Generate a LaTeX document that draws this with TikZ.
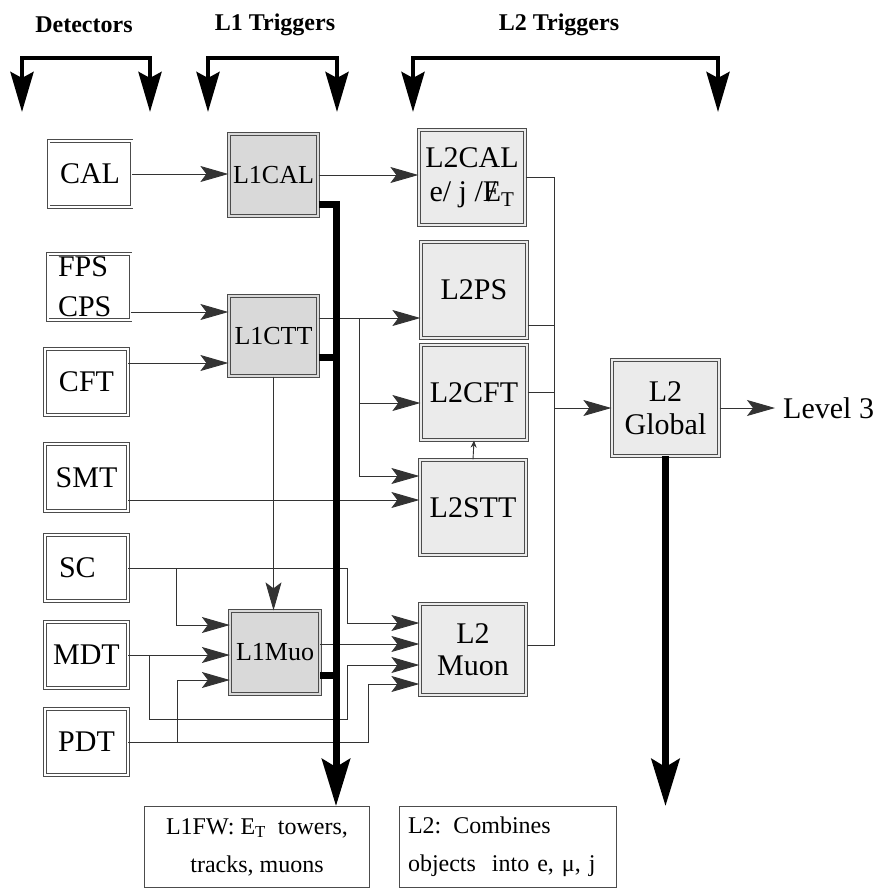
\documentclass[tikz,border=0pt]{standalone}
\usepackage{fontspec}
\setmainfont{Liberation Serif}
\usetikzlibrary{arrows.meta,calc}

\begin{document}
\begin{tikzpicture}[x=1pt,y=-1pt,
    detbox/.style={draw=black!70, double=white, double distance=2pt, line width=0.8pt,
        minimum width=83pt, minimum height=66.5pt, inner sep=0pt,
        font=\fontsize{30}{40}\selectfont},
    lonebox/.style={detbox, fill=gray!30, double=gray!30,
        minimum width=89.5pt, minimum height=82.5pt, font=\fontsize{26}{30}\selectfont},
    ltwobox/.style={detbox, fill=gray!16, double=gray!16,
        minimum width=106.5pt, minimum height=95.5pt, font=\fontsize{30}{34}\selectfont},
    fwbox/.style={draw=black!70, line width=0.9pt, minimum height=81pt,
        font=\fontsize{24}{38}\selectfont},
    header/.style={font=\fontsize{24}{28}\selectfont\bfseries},
    wire/.style={draw=black!80, line width=0.9pt},
    arr/.style={wire, -{Stealth[length=28pt,width=16pt,inset=6pt]}},
    smallarr/.style={wire, -{Stealth[length=7pt,width=6pt]}},
    bus/.style={line width=7pt, line join=miter},
    busarr/.style={bus, -{Stealth[length=47pt,width=28pt,inset=8pt]}},
    brk/.style={line width=4.5pt, line join=miter,
        {Stealth[length=40pt,width=23pt,inset=6pt]}-{Stealth[length=40pt,width=23pt,inset=6pt]}}
]
\useasboundingbox (0,0) rectangle (884,889);

% Headers
\node[header] (dethd) at (84,25) {Detectors};
\node[header] (lonehd) at (275,25) {L1 Triggers};
\node[header] (ltwohd) at (559,25) {L2 Triggers};

% Brackets
\draw[brk] (22,112) |- (150,58) -- (150,112);
\draw[brk] (208,112) |- (337,58) -- (337,112);
\draw[brk] (413,112) |- (718,58) -- (718,112);

% Detectors
\node[detbox] (cal) at (90,174) {CAL};
\node[detbox, align=left, text width=62pt] (fps) at (89,287) {FPS\\CPS};
\node[detbox] (cft) at (86.5,382) {CFT};
\node[detbox] (smt) at (86.5,477.5) {SMT};
\node[detbox, align=left, text width=55pt] (sc) at (86.5,568) {SC};
\node[detbox] (mdt) at (86.5,655) {MDT};
\node[detbox] (pdt) at (86.5,742) {PDT};

% L1 triggers
\node[lonebox] (l1cal) at (273.5,175) {L1CAL};
\node[lonebox, minimum height=80.5pt] (l1ctt) at (273.5,336) {L1CTT};
\node[lonebox, minimum height=83.5pt] (l1muo) at (275,652.5) {L1Muo};

% L2 triggers
\node[ltwobox, align=center] (l2cal) at (472,177.5)
    {L2CAL\\e/ j /\ooalign{E\cr\hidewidth/\hidewidth}\textsubscript{T}};
\node[ltwobox] (l2ps) at (474,290) {L2PS};
\node[ltwobox] (l2cft) at (474,392.5) {L2CFT};
\node[ltwobox] (l2stt) at (473,507.5) {L2STT};
\node[ltwobox, align=center, minimum height=91.5pt, font=\fontsize{30}{32}\selectfont]
    (l2muon) at (473,649.5) {L2\\Muon};
\node[ltwobox, align=center, minimum width=107.5pt, font=\fontsize{30}{33}\selectfont]
    (l2glob) at (665.5,408) {L2\\Global};
\node[anchor=west, inner sep=0pt, font=\fontsize{30}{34}\selectfont] (lev3) at (783,408) {Level 3};

% Framework boxes
\node[fwbox, minimum width=225pt, align=center] (l1fw) at (257,847)
    {L1FW: E\textsubscript{T}\ \ towers,\\tracks, muons};
\node[fwbox, inner xsep=9pt, text width=199pt, align=left] (l2fw) at (507.5,847)
    {L2: Combines\\objects\ \ into e, μ, j};

% Detectors to L1
\draw[arr] (cal.east) -- (cal.east -| l1cal.west);
\draw[arr] ([yshift=-25pt]fps.east) -- ([yshift=-25pt]fps.east -| l1ctt.west);
\draw[arr] ([yshift=19pt]cft.east) -- ([yshift=19pt]cft.east -| l1ctt.west);

% L1 to L2
\draw[arr] (l1cal.east) -- (l1cal.east -| l2cal.west);
\draw[arr] ([yshift=18pt]l1ctt.east) -- ([yshift=18pt]l1ctt.east -| l2ps.west);
\coordinate (cttsplit) at (359,318);
\draw[arr] (cttsplit) |- ([yshift=-10.5pt]l2cft.west);
\draw[arr] (cttsplit) |- ([yshift=31.5pt]l2stt.west);
\draw[arr] ([yshift=-22.5pt]smt.east) -- ([yshift=-22.5pt]smt.east -| l2stt.west);
\draw[smallarr] (l2stt.north) -- (l2cft.south);
\draw[arr] (l1ctt.south) -- (l1ctt.south |- l1muo.north);

% Muon wiring
\coordinate (scsplit) at (176,568);
\coordinate (mdtsplit) at (149,655);
\coordinate (pdtsplit) at (177,742);
\draw[arr] (sc.east) -| (347,623) -- ([yshift=26.5pt]l2muon.west);
\draw[arr] (scsplit) |- ([yshift=27.5pt]l1muo.west);
\draw[arr] (mdt.east) -- (mdt.east -| l1muo.west);
\draw[arr] (mdtsplit) |- (347,719) |- ([yshift=-15.5pt]l2muon.west);
\draw[arr] (pdt.east) -| (368,684) -- ([yshift=-34.5pt]l2muon.west);
\draw[arr] (pdtsplit) |- ([yshift=-27.5pt]l1muo.west);
\draw[arr] ([yshift=8.5pt]l1muo.east) -- ([yshift=8.5pt]l1muo.east -| l2muon.west);

% L2 to global
\coordinate (mx) at (554,0);
\draw[wire] (l2cal.east) -| ([yshift=4.5pt]l2muon.east -| mx) -- ([yshift=4.5pt]l2muon.east);
\draw[wire] ([yshift=-35pt]l2ps.east) -- ([yshift=-35pt]l2ps.east -| mx);
\draw[wire] (l2cft.east) -- (l2cft.east -| mx);
\draw[arr] (l2glob.west -| mx) -- (l2glob.west);
\draw[arr] (l2glob.east) -- ([xshift=-8pt]lev3.west);

% Buses
\coordinate (bx) at (336,0);
\draw[busarr] ([yshift=-29pt]l1cal.east) -| (l1fw.north -| bx);
\draw[bus] ([yshift=-21pt]l1ctt.east) -- ([yshift=-21pt]l1ctt.east -| bx);
\draw[bus] ([yshift=-22.5pt]l1muo.east) -- ([yshift=-22.5pt]l1muo.east -| bx);
\draw[busarr] (l2glob.south) -- (l2glob.south |- l2fw.north);

\end{tikzpicture}
\end{document}
